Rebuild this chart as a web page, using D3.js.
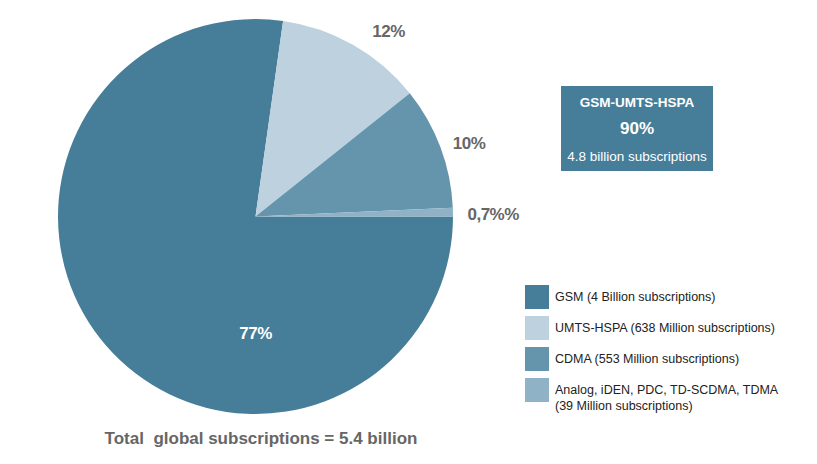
<!DOCTYPE html>
<html><head><meta charset="utf-8">
<script src="https://cdn.jsdelivr.net/npm/d3@7"></script>
<style>
body{margin:0;background:#fff;}
text{font-family:"Liberation Sans",Arial,sans-serif;}
</style></head>
<body><svg id="c" width="817" height="464"></svg>
<script>
const categories = ["GSM (4 Billion subscriptions)", "UMTS-HSPA (638 Million subscriptions)", "CDMA (553 Million subscriptions)", "Analog, iDEN, PDC, TD-SCDMA, TDMA|(39 Million subscriptions)"];
const values = [77, 12, 10, 0.7];
const valueLabels = ["77%", "12%", "10%", "0,7%%"];
const colors = ["#467e99", "#bdd1de", "#6595ad", "#8fb2c7"];
const boxLines = ["GSM-UMTS-HSPA", "90%", "4.8 billion subscriptions"];
const totalText = "Total  global subscriptions = 5.4 billion";

const svg = d3.select("#c");
const cx = 255.5, cy = 216.5, R = 197.5;
const g = svg.append("g").attr("transform", `translate(${cx},${cy})`);
const pie = d3.pie().sort(null).value(d => d).startAngle(Math.PI/2).endAngle(Math.PI/2 + 2*Math.PI);
const arcs = pie(values);
const arc = d3.arc().innerRadius(0).outerRadius(R);
g.selectAll("path").data(arcs).join("path").attr("d", arc).attr("fill", (d,i) => colors[i]);

// labels
const labelR = [117, 228, 226, 212];
const angAdj = [0, 6 * Math.PI/180, 1.5*Math.PI/180, 0.5*Math.PI/180];
arcs.forEach((a, i) => {
  let ang = (a.startAngle + a.endAngle) / 2 + angAdj[i];
  if (i === 0) ang = Math.PI;
  const x = Math.sin(ang) * labelR[i], y = -Math.cos(ang) * labelR[i];
  g.append("text").attr("x", x).attr("y", y).attr("dy", "0.35em")
    .attr("text-anchor", i === 3 ? "start" : "middle")
    .attr("font-size", 17).attr("font-weight", "bold")
    .attr("fill", i === 0 ? "#fff" : "#666").attr("letter-spacing", -0.5)
    .text(valueLabels[i]);
});

// box
const box = svg.append("g").attr("transform", "translate(561,86)");
box.append("rect").attr("width", 152).attr("height", 85).attr("fill", colors[0]);
box.append("text").attr("x", 76).attr("y", 21).attr("text-anchor", "middle").attr("fill", "#fff").attr("font-size", 13.5).attr("font-weight", "bold").text(boxLines[0]);
box.append("text").attr("x", 76).attr("y", 48).attr("text-anchor", "middle").attr("fill", "#fff").attr("font-size", 17).attr("font-weight", "bold").text(boxLines[1]);
box.append("text").attr("x", 76).attr("y", 75).attr("text-anchor", "middle").attr("fill", "#fff").attr("font-size", 13.5).text(boxLines[2]);

// legend
const leg = svg.append("g").attr("transform", "translate(525,285)");
categories.forEach((c, i) => {
  const row = leg.append("g").attr("transform", `translate(0,${i*31})`);
  row.append("rect").attr("width", 24).attr("height", 24).attr("fill", colors[i]);
  const lines = c.split("|");
  lines.forEach((l, j) => {
    row.append("text").attr("x", 30).attr("y", 16 + j*16).attr("font-size", 12.5).attr("fill", "#222").text(l);
  });
});

svg.append("text").attr("x", 261).attr("y", 444).attr("text-anchor", "middle")
  .attr("font-size", 17).attr("font-weight", "bold").attr("fill", "#666")
  .attr("xml:space", "preserve").style("white-space", "pre").text(totalText);
</script></body></html>
